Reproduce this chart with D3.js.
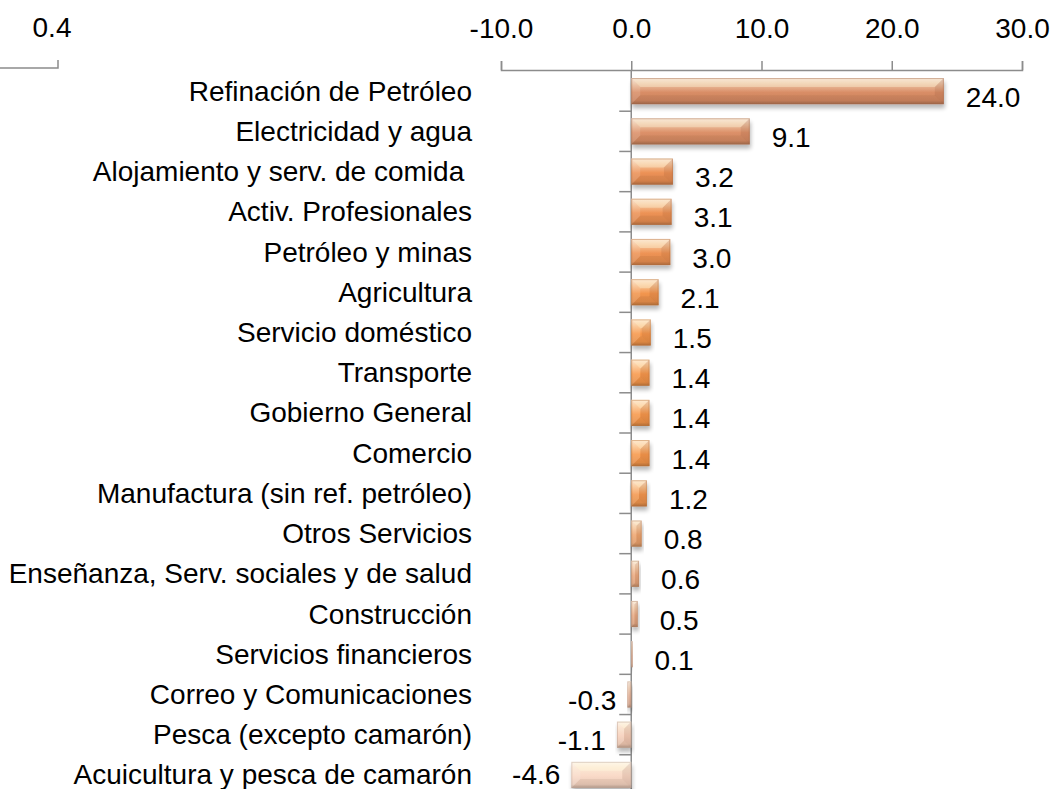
<!DOCTYPE html>
<html>
<head>
<meta charset="utf-8">
<script src="https://cdn.jsdelivr.net/npm/d3@7"></script>
<style>
  html, body { margin: 0; padding: 0; background: #fff; }
  svg { display: block; }
  text { font-family: "Liberation Sans", Arial, sans-serif; fill: #000; }
</style>
</head>
<body>
<svg id="chart" width="1057" height="789"></svg>
<script>
// ---- data ----
const categories = [
  "Refinación de Petróleo",
  "Electricidad y agua",
  "Alojamiento y serv. de comida ",
  "Activ. Profesionales",
  "Petróleo y minas",
  "Agricultura",
  "Servicio doméstico",
  "Transporte",
  "Gobierno General",
  "Comercio",
  "Manufactura (sin ref. petróleo)",
  "Otros Servicios",
  "Enseñanza, Serv. sociales y de salud",
  "Construcción",
  "Servicios financieros",
  "Correo y Comunicaciones",
  "Pesca (excepto camarón)",
  "Acuicultura y pesca de camarón"
];
const values = [24.0, 9.1, 3.2, 3.1, 3.0, 2.1, 1.5, 1.4, 1.4, 1.4, 1.2, 0.8, 0.6, 0.5, 0.1, -0.3, -1.1, -4.6];
const xTicks = [-10, 0, 10, 20, 30];
const secondaryTickLabel = "0.4";

// ---- styles ----
const barColors = [
  "#d98d66", "#dc9068", "#ec9156", "#ed9255", "#ee9354", "#f2954e",
  "#f7984c", "#f8994c", "#f8994c", "#f8994c", "#f4984f", "#efa670",
  "#ebaa80", "#e9ac86", "#ebb698", "#ecbca4", "#f6cfba", "#f9d9c7"
];

const svg = d3.select("#chart");
const W = 1057, H = 789;
const axisY = 70;
const x = d3.scaleLinear().domain([-10, 30]).range([501, 1022]);
const y = d3.scaleBand().domain(categories).range([71, 795]).paddingInner(0.35).paddingOuter(0.175);
const fmt = d => d3.format(".1f")(d).replace("−", "-");

const fontSize = 28;
const defs = svg.append("defs");

// shadow filter
const f = defs.append("filter").attr("id", "shadow").attr("x", "-20%").attr("y", "-30%").attr("width", "140%").attr("height", "180%");
f.append("feGaussianBlur").attr("in", "SourceAlpha").attr("stdDeviation", 2.2).attr("result", "b");
f.append("feOffset").attr("dx", 1).attr("dy", 4).attr("result", "o");
f.append("feComponentTransfer").append("feFuncA").attr("type", "linear").attr("slope", 0.28);
const m = f.append("feMerge");
m.append("feMergeNode");
m.append("feMergeNode").attr("in", "SourceGraphic");

values.forEach((v, i) => {
  const c = d3.color(barColors[i]);
  const g = defs.append("linearGradient").attr("id", "g" + i).attr("x1", 0).attr("y1", 0).attr("x2", 0).attr("y2", 1);
  g.append("stop").attr("offset", "0%").attr("stop-color", d3.interpolateRgb(c, "#fff")(0.7));
  g.append("stop").attr("offset", "22%").attr("stop-color", d3.interpolateRgb(c, "#fff7e0")(0.5));
  g.append("stop").attr("offset", "55%").attr("stop-color", c.formatHex());
  g.append("stop").attr("offset", "86%").attr("stop-color", c.darker(0.2).formatHex());
  g.append("stop").attr("offset", "100%").attr("stop-color", c.darker(0.85).formatHex());
});

// ---- secondary axis artifact top-left ----
svg.append("text").attr("x", 52).attr("y", 27).attr("text-anchor", "middle").attr("dominant-baseline", "central")
  .style("font-size", fontSize + "px").text(secondaryTickLabel);
svg.append("path").attr("d", `M0,${axisY - 2}H58V${axisY - 10}`).attr("fill", "none").attr("stroke", "#8c8c8c").attr("stroke-width", 1.5);

// ---- top value axis ----
const ax = svg.append("g").attr("transform", `translate(0,${axisY})`)
  .call(d3.axisTop(x).tickValues(xTicks).tickFormat(fmt).tickSize(9).tickSizeOuter(9).tickPadding(23));
ax.selectAll("path, line").attr("stroke", "#8c8c8c").attr("stroke-width", 1.5);
ax.selectAll("text").style("font-size", fontSize + "px").attr("font-family", "Liberation Sans, Arial, sans-serif").attr("fill", "#000");

// ---- category axis at zero ----
const x0 = x(0);
const step = y.step();
const catAxis = svg.append("g");
catAxis.append("line").attr("x1", x0).attr("x2", x0).attr("y1", axisY).attr("y2", H + 10)
  .attr("stroke", "#8c8c8c").attr("stroke-width", 1.5);
categories.forEach((c, i) => {
  const yb = y.range()[0] + i * step;
  if (i > 0) {
    catAxis.append("line").attr("x1", x0 - 12).attr("x2", x0).attr("y1", yb).attr("y2", yb)
      .attr("stroke", "#8c8c8c").attr("stroke-width", 1.5);
  }
});

// ---- category labels ----
svg.append("g").selectAll("text").data(categories).join("text")
  .attr("x", 472)
  .attr("y", d => y(d) + y.bandwidth() / 2)
  .attr("text-anchor", "end")
  .attr("dominant-baseline", "central")
  .style("font-size", fontSize + "px")
  .style("white-space", "pre")
  .text(d => d);

// ---- bars ----
const bars = svg.append("g");
values.forEach((v, i) => {
  const xa = Math.min(x(0), x(v)), xb = Math.max(x(0), x(v));
  const y0 = y(categories[i]), h = y.bandwidth();
  const w = Math.max(xb - xa, 1);
  const g = bars.append("g").attr("filter", "url(#shadow)");
  g.append("rect").attr("x", xa).attr("y", y0).attr("width", w).attr("height", h).attr("fill", `url(#g${i})`);
  const b = Math.min(h / 2, w / 2, 9);
  const x1 = xa + w;
  const y1 = y0 + h;
  // bevel facets
  g.append("path").attr("d", `M${xa},${y0}L${x1},${y0}L${x1 - b},${y0 + b}L${xa + b},${y0 + b}Z`)
    .attr("fill", "#fffbe0").attr("opacity", 0.35);
  g.append("path").attr("d", `M${xa},${y0}L${xa + b},${y0 + b}L${xa + b},${y1 - b}L${xa},${y1}Z`)
    .attr("fill", "#ffffff").attr("opacity", 0.12);
  g.append("path").attr("d", `M${x1},${y0}L${x1 - b},${y0 + b}L${x1 - b},${y1 - b}L${x1},${y1}Z`)
    .attr("fill", "#5a2a10").attr("opacity", 0.1);
  g.append("path").attr("d", `M${xa},${y1}L${xa + b},${y1 - b}L${x1 - b},${y1 - b}L${x1},${y1}Z`)
    .attr("fill", "#5a2a10").attr("opacity", 0.07);
  g.append("rect").attr("x", xa + 0.5).attr("y", y0 + 0.5).attr("width", Math.max(w - 1, 0.5)).attr("height", h - 1)
    .attr("fill", "none").attr("stroke", d3.color(barColors[i]).darker(0.8)).attr("stroke-opacity", 0.45).attr("stroke-width", 1);
});

// ---- value labels ----
svg.append("g").selectAll("text").data(values).join("text")
  .attr("x", d => d >= 0 ? x(d) + 22 : x(d) - 11)
  .attr("y", (d, i) => Math.min(y(categories[i]) + y.bandwidth() / 2 + 6, 774))
  .attr("text-anchor", d => d >= 0 ? "start" : "end")
  .attr("dominant-baseline", "central")
  .style("font-size", fontSize + "px")
  .text(fmt);
</script>
</body>
</html>
